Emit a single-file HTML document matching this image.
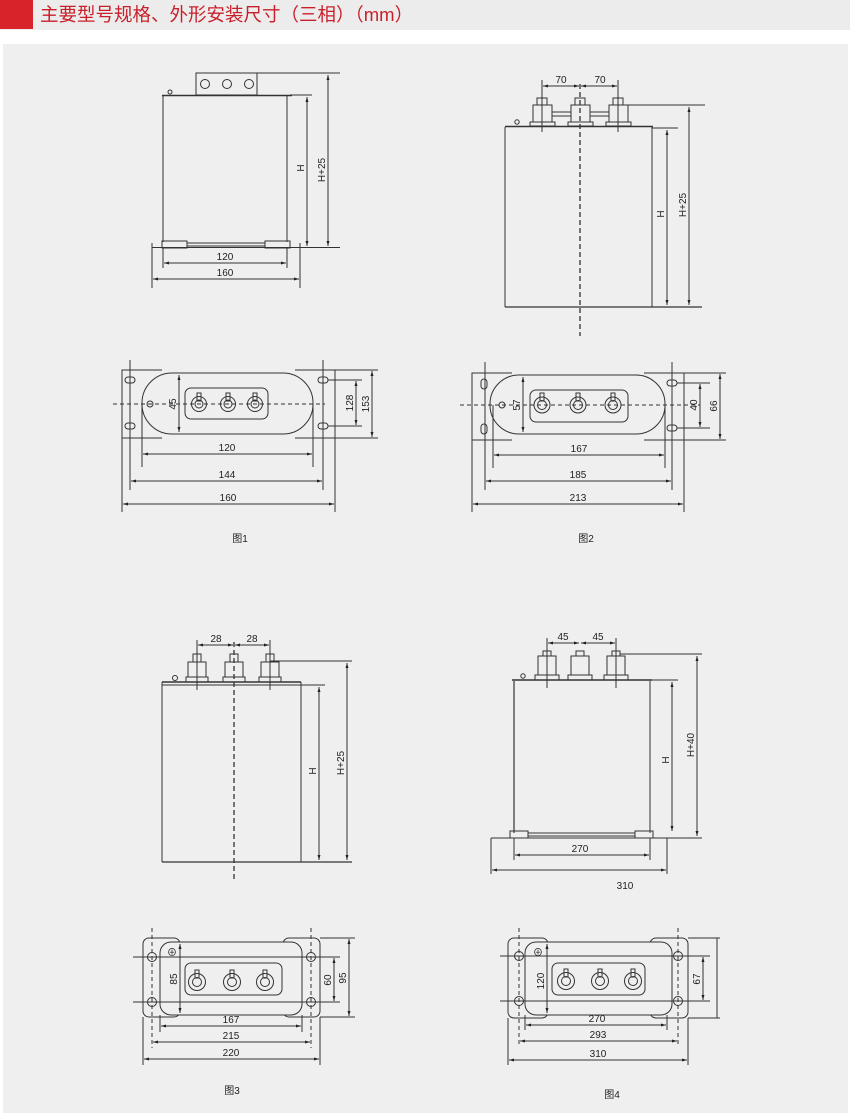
<!DOCTYPE html>
<html><head><meta charset="utf-8">
<style>
html,body{margin:0;padding:0;background:#fff;}
body{width:850px;height:1113px;position:relative;overflow:hidden;font-family:"Liberation Sans","Noto Sans CJK SC",sans-serif;}
.hdr{position:absolute;left:0;top:0;width:850px;height:30px;background:#ececec;}
.red{position:absolute;left:0;top:0;width:33px;height:29px;background:#d8232a;}
.ttl{position:absolute;left:40px;top:3px;font-size:18.5px;color:#c8202a;line-height:24px;font-family:"Liberation Sans","Noto Sans CJK SC",sans-serif;}
.panel{position:absolute;left:3px;top:44px;width:845px;height:1069px;background:#efefef;}
svg{position:absolute;left:0;top:0;}
text{font-family:"Liberation Sans","Noto Sans CJK SC",sans-serif;font-size:10px;fill:#222;}
</style></head><body>
<div class="hdr"></div><div class="red"></div>
<div class="ttl">主要型号规格、外形安装尺寸（三相）（mm）</div>
<div class="panel"></div>
<svg width="850" height="1113" viewBox="0 0 850 1113">
<defs>
<marker id="a" viewBox="0 0 10 10" refX="10" refY="5" markerWidth="7" markerHeight="5" orient="auto-start-reverse"><path d="M0,2 L10,5 L0,8 z" fill="#222"/></marker>
</defs>
<g stroke="#333" stroke-width="1" fill="none">

<!-- ===== FIG 1 elevation ===== -->
<rect x="196" y="73" width="61" height="22"/>
<circle cx="205" cy="84" r="4.5"/><circle cx="227" cy="84" r="4.5"/><circle cx="249" cy="84" r="4.5"/>
<line x1="257" y1="73" x2="340" y2="73"/>
<line x1="162" y1="95.5" x2="292" y2="95.5" stroke-width="1.5"/>
<line x1="290" y1="95" x2="312" y2="95"/>
<line x1="163" y1="96" x2="163" y2="242"/>
<line x1="287" y1="96" x2="287" y2="242"/>
<rect x="162" y="241" width="25" height="7"/>
<rect x="265" y="241" width="25" height="7"/>
<line x1="187" y1="243" x2="265" y2="243"/><line x1="187" y1="246" x2="265" y2="246"/>
<line x1="152" y1="247.5" x2="340" y2="247.5"/>
<line x1="152" y1="243" x2="152" y2="288"/><line x1="300" y1="243" x2="300" y2="288"/>
<line x1="163" y1="248" x2="163" y2="268"/><line x1="287" y1="248" x2="287" y2="268"/>
<line x1="307" y1="97" x2="307" y2="246" marker-start="url(#a)" marker-end="url(#a)"/>
<line x1="328" y1="75" x2="328" y2="246" marker-start="url(#a)" marker-end="url(#a)"/>
<line x1="164" y1="263" x2="286" y2="263" marker-start="url(#a)" marker-end="url(#a)"/>
<line x1="153" y1="279" x2="299" y2="279" marker-start="url(#a)" marker-end="url(#a)"/>
<circle cx="170" cy="92" r="2"/>

<!-- ===== FIG 1 plan ===== -->
<path d="M162,370 L122,370 L122,438 L162,438"/>
<path d="M295,370 L335,370 L335,438 L295,438"/>
<rect x="142" y="373" width="171" height="61" rx="30"/>
<rect x="185" y="388" width="83" height="31" rx="6"/>
<g>
<circle cx="199" cy="404" r="7.5"/><circle cx="199" cy="404" r="4"/><rect x="197" y="393" width="4" height="8"/>
<circle cx="228" cy="404" r="7.5"/><circle cx="228" cy="404" r="4"/><rect x="226" y="393" width="4" height="8"/>
<circle cx="255" cy="404" r="7.5"/><circle cx="255" cy="404" r="4"/><rect x="253" y="393" width="4" height="8"/>
</g>
<circle cx="150" cy="404" r="3"/>
<rect x="125" y="377" width="10" height="6" rx="3"/><rect x="125" y="423" width="10" height="6" rx="3"/>
<rect x="318" y="377" width="10" height="6" rx="3"/><rect x="318" y="423" width="10" height="6" rx="3"/>
<line x1="113" y1="404" x2="325" y2="404" stroke-dasharray="4,3"/>
<line x1="179" y1="375" x2="179" y2="432" marker-start="url(#a)" marker-end="url(#a)"/>
<line x1="328" y1="380" x2="362" y2="380"/><line x1="328" y1="426" x2="362" y2="426"/>
<line x1="335" y1="370" x2="378" y2="370"/><line x1="335" y1="438" x2="378" y2="438"/>
<line x1="356" y1="381" x2="356" y2="425" marker-start="url(#a)" marker-end="url(#a)"/>
<line x1="372" y1="371" x2="372" y2="437" marker-start="url(#a)" marker-end="url(#a)"/>
<line x1="142" y1="404" x2="142" y2="467"/><line x1="313" y1="404" x2="313" y2="467"/>
<line x1="130" y1="360" x2="130" y2="490"/><line x1="323" y1="360" x2="323" y2="490"/>
<line x1="122" y1="438" x2="122" y2="512"/><line x1="335" y1="438" x2="335" y2="512"/>
<line x1="143" y1="454" x2="312" y2="454" marker-start="url(#a)" marker-end="url(#a)"/>
<line x1="131" y1="481" x2="322" y2="481" marker-start="url(#a)" marker-end="url(#a)"/>
<line x1="123" y1="504" x2="334" y2="504" marker-start="url(#a)" marker-end="url(#a)"/>

<!-- ===== FIG 2 elevation ===== -->
<line x1="505" y1="126.5" x2="653" y2="126.5" stroke-width="1.5"/>
<line x1="505" y1="127" x2="505" y2="307"/>
<line x1="652" y1="127" x2="652" y2="307"/>
<line x1="505" y1="307" x2="702" y2="307" stroke-width="1.2"/>
<line x1="652" y1="128" x2="678" y2="128"/>
<line x1="620" y1="105" x2="705" y2="105"/>
<g>
<rect x="530" y="122" width="25" height="4"/><rect x="533" y="105" width="19" height="17"/><rect x="537" y="98" width="10" height="7"/>
<rect x="568" y="122" width="25" height="4"/><rect x="571" y="105" width="19" height="17"/><rect x="575" y="98" width="10" height="7"/>
<rect x="606" y="122" width="25" height="4"/><rect x="609" y="105" width="19" height="17"/><rect x="613" y="98" width="10" height="7"/>
<line x1="552" y1="112" x2="571" y2="112"/><line x1="590" y1="112" x2="609" y2="112"/>
<line x1="552" y1="116" x2="571" y2="116"/><line x1="590" y1="116" x2="609" y2="116"/>
</g>
<line x1="542" y1="80" x2="542" y2="132"/><line x1="618" y1="80" x2="618" y2="132"/>
<line x1="580" y1="84" x2="580" y2="336" stroke-dasharray="5,3" stroke-width="1.3"/>
<line x1="543" y1="86" x2="579" y2="86" marker-start="url(#a)" marker-end="url(#a)"/>
<line x1="581" y1="86" x2="617" y2="86" marker-start="url(#a)" marker-end="url(#a)"/>
<line x1="667" y1="130" x2="667" y2="305" marker-start="url(#a)" marker-end="url(#a)"/>
<line x1="689" y1="107" x2="689" y2="305" marker-start="url(#a)" marker-end="url(#a)"/>
<circle cx="517" cy="122" r="2.2"/>

<!-- ===== FIG 2 plan ===== -->
<path d="M512,373 L472,373 L472,440 L512,440"/>
<path d="M644,373 L684,373 L684,440 L644,440"/>
<rect x="490" y="375" width="175" height="59" rx="29"/>
<rect x="530" y="390" width="98" height="32" rx="6"/>
<g>
<circle cx="542" cy="405" r="8"/><circle cx="542" cy="405" r="4.5"/><rect x="540" y="393" width="4" height="8"/>
<circle cx="578" cy="405" r="8"/><circle cx="578" cy="405" r="4.5"/><rect x="576" y="393" width="4" height="8"/>
<circle cx="613" cy="405" r="8"/><circle cx="613" cy="405" r="4.5"/><rect x="611" y="393" width="4" height="8"/>
</g>
<circle cx="502" cy="405" r="3"/>
<rect x="481" y="379" width="6" height="10" rx="3"/><rect x="481" y="424" width="6" height="10" rx="3"/>
<rect x="667" y="380" width="10" height="6" rx="3"/><rect x="667" y="425" width="10" height="6" rx="3"/>
<line x1="460" y1="405" x2="700" y2="405" stroke-dasharray="4,3"/>
<line x1="523" y1="377" x2="523" y2="432" marker-start="url(#a)" marker-end="url(#a)"/>
<line x1="677" y1="383" x2="710" y2="383"/><line x1="677" y1="428" x2="710" y2="428"/>
<line x1="684" y1="373" x2="726" y2="373"/><line x1="684" y1="440" x2="726" y2="440"/>
<line x1="700" y1="384" x2="700" y2="427" marker-start="url(#a)" marker-end="url(#a)"/>
<line x1="720" y1="374" x2="720" y2="439" marker-start="url(#a)" marker-end="url(#a)"/>
<line x1="493" y1="405" x2="493" y2="468"/><line x1="665" y1="405" x2="665" y2="468"/>
<line x1="485" y1="362" x2="485" y2="490"/><line x1="672" y1="362" x2="672" y2="490"/>
<line x1="472" y1="440" x2="472" y2="512"/><line x1="684" y1="440" x2="684" y2="512"/>
<line x1="494" y1="455" x2="664" y2="455" marker-start="url(#a)" marker-end="url(#a)"/>
<line x1="486" y1="481" x2="671" y2="481" marker-start="url(#a)" marker-end="url(#a)"/>
<line x1="473" y1="504" x2="683" y2="504" marker-start="url(#a)" marker-end="url(#a)"/>

<!-- ===== FIG 3 elevation ===== -->
<line x1="162" y1="682" x2="301" y2="682" stroke-width="1.5"/>
<line x1="162" y1="685" x2="301" y2="685"/>
<line x1="162" y1="682" x2="162" y2="862"/>
<line x1="301" y1="682" x2="301" y2="862"/>
<line x1="162" y1="862" x2="352" y2="862" stroke-width="1.2"/>
<line x1="301" y1="685" x2="325" y2="685"/>
<line x1="270" y1="661" x2="352" y2="661"/>
<g>
<rect x="186" y="677" width="22" height="5"/><rect x="188" y="662" width="18" height="15"/><rect x="193" y="654" width="8" height="8"/>
<rect x="223" y="677" width="22" height="5"/><rect x="225" y="662" width="18" height="15"/><rect x="230" y="654" width="8" height="8"/>
<rect x="259" y="677" width="22" height="5"/><rect x="261" y="662" width="18" height="15"/><rect x="266" y="654" width="8" height="8"/>
</g>
<line x1="197" y1="640" x2="197" y2="690"/><line x1="270" y1="640" x2="270" y2="690"/>
<line x1="234" y1="642" x2="234" y2="880" stroke-dasharray="5,3" stroke-width="1.3"/>
<line x1="198" y1="645" x2="233" y2="645" marker-start="url(#a)" marker-end="url(#a)"/>
<line x1="235" y1="645" x2="269" y2="645" marker-start="url(#a)" marker-end="url(#a)"/>
<line x1="319" y1="687" x2="319" y2="860" marker-start="url(#a)" marker-end="url(#a)"/>
<line x1="347" y1="663" x2="347" y2="860" marker-start="url(#a)" marker-end="url(#a)"/>
<circle cx="175" cy="678" r="2.5"/>

<!-- ===== FIG 4 elevation ===== -->
<line x1="512" y1="680" x2="652" y2="680" stroke-width="1.5"/>
<line x1="514" y1="681" x2="514" y2="833" stroke-width="1.2"/>
<line x1="650" y1="681" x2="650" y2="833"/>
<line x1="650" y1="680" x2="678" y2="680"/>
<line x1="620" y1="654" x2="702" y2="654"/>
<g>
<rect x="535" y="675" width="24" height="5"/><rect x="538" y="656" width="18" height="19"/><rect x="543" y="651" width="8" height="5"/>
<rect x="568" y="675" width="24" height="5"/><rect x="571" y="656" width="18" height="19"/><rect x="576" y="651" width="8" height="5"/>
<rect x="604" y="675" width="24" height="5"/><rect x="607" y="656" width="18" height="19"/><rect x="612" y="651" width="8" height="5"/>
</g>
<line x1="547" y1="638" x2="547" y2="688"/><line x1="616" y1="638" x2="616" y2="688"/>
<line x1="548" y1="643" x2="579" y2="643" marker-start="url(#a)" marker-end="url(#a)"/>
<line x1="581" y1="643" x2="615" y2="643" marker-start="url(#a)" marker-end="url(#a)"/>
<rect x="510" y="831" width="18" height="7"/><rect x="635" y="831" width="18" height="7"/>
<line x1="528" y1="833" x2="635" y2="833"/><line x1="528" y1="836" x2="635" y2="836"/>
<line x1="491" y1="838" x2="702" y2="838"/>
<line x1="491" y1="838" x2="491" y2="874"/><line x1="667" y1="838" x2="667" y2="874"/>
<line x1="514" y1="838" x2="514" y2="860"/><line x1="650" y1="838" x2="650" y2="860"/>
<line x1="672" y1="682" x2="672" y2="831" marker-start="url(#a)" marker-end="url(#a)"/>
<line x1="697" y1="656" x2="697" y2="836" marker-start="url(#a)" marker-end="url(#a)"/>
<line x1="515" y1="855" x2="649" y2="855" marker-start="url(#a)" marker-end="url(#a)"/>
<line x1="492" y1="870" x2="666" y2="870" marker-start="url(#a)" marker-end="url(#a)"/>
<circle cx="523" cy="676" r="2.2"/>

<!-- ===== FIG 3 plan ===== -->
<rect x="143" y="938" width="37" height="79" rx="6"/>
<rect x="283" y="938" width="37" height="79" rx="6"/>
<rect x="160" y="942" width="142" height="73" rx="11" fill="#efefef"/>
<rect x="185" y="963" width="97" height="32" rx="6"/>
<g>
<circle cx="197" cy="982" r="8.5"/><circle cx="197" cy="982" r="4.5"/><rect x="195" y="970" width="4" height="8"/>
<circle cx="232" cy="982" r="8.5"/><circle cx="232" cy="982" r="4.5"/><rect x="230" y="970" width="4" height="8"/>
<circle cx="265" cy="982" r="8.5"/><circle cx="265" cy="982" r="4.5"/><rect x="263" y="970" width="4" height="8"/>
</g>
<circle cx="152" cy="957" r="4.5"/><circle cx="152" cy="1002" r="4.5"/>
<circle cx="311" cy="957" r="4.5"/><circle cx="311" cy="1002" r="4.5"/>
<line x1="133" y1="957" x2="340" y2="957"/><line x1="133" y1="1002" x2="340" y2="1002"/>
<line x1="152" y1="928" x2="152" y2="1048" stroke-dasharray="4,3"/>
<line x1="311" y1="928" x2="311" y2="1048" stroke-dasharray="4,3"/>
<line x1="180" y1="944" x2="180" y2="1013" marker-start="url(#a)" marker-end="url(#a)"/>
<line x1="320" y1="938" x2="355" y2="938"/><line x1="320" y1="1017" x2="355" y2="1017"/>
<line x1="334" y1="958" x2="334" y2="1001" marker-start="url(#a)" marker-end="url(#a)"/>
<line x1="349" y1="939" x2="349" y2="1016" marker-start="url(#a)" marker-end="url(#a)"/>
<line x1="160" y1="1015" x2="160" y2="1032"/><line x1="302" y1="1015" x2="302" y2="1032"/>
<line x1="143" y1="1017" x2="143" y2="1065"/><line x1="320" y1="1017" x2="320" y2="1065"/>
<line x1="161" y1="1026" x2="301" y2="1026" marker-start="url(#a)" marker-end="url(#a)"/>
<line x1="153" y1="1042" x2="310" y2="1042" marker-start="url(#a)" marker-end="url(#a)"/>
<line x1="144" y1="1059" x2="319" y2="1059" marker-start="url(#a)" marker-end="url(#a)"/>

<!-- ===== FIG 4 plan ===== -->
<rect x="508" y="938" width="40" height="80" rx="6"/>
<rect x="650" y="938" width="38" height="80" rx="6"/>
<rect x="525" y="942" width="147" height="73" rx="11" fill="#efefef"/>
<rect x="552" y="963" width="93" height="32" rx="6"/>
<g>
<circle cx="566" cy="981" r="8.5"/><circle cx="566" cy="981" r="4.5"/><rect x="564" y="969" width="4" height="8"/>
<circle cx="600" cy="981" r="8.5"/><circle cx="600" cy="981" r="4.5"/><rect x="598" y="969" width="4" height="8"/>
<circle cx="633" cy="981" r="8.5"/><circle cx="633" cy="981" r="4.5"/><rect x="631" y="969" width="4" height="8"/>
</g>
<circle cx="519" cy="956" r="4.5"/><circle cx="519" cy="1001" r="4.5"/>
<circle cx="678" cy="956" r="4.5"/><circle cx="678" cy="1001" r="4.5"/>
<line x1="500" y1="956" x2="710" y2="956"/><line x1="500" y1="1001" x2="710" y2="1001"/>
<line x1="519" y1="928" x2="519" y2="1046" stroke-dasharray="4,3"/>
<line x1="678" y1="928" x2="678" y2="1046" stroke-dasharray="4,3"/>
<line x1="547" y1="944" x2="547" y2="1013" marker-start="url(#a)" marker-end="url(#a)"/>
<line x1="688" y1="938" x2="720" y2="938"/><line x1="688" y1="1018" x2="720" y2="1018"/>
<line x1="717" y1="938" x2="717" y2="1018"/>
<line x1="703" y1="957" x2="703" y2="1000" marker-start="url(#a)" marker-end="url(#a)"/>
<line x1="525" y1="1015" x2="525" y2="1030"/><line x1="667" y1="1015" x2="667" y2="1030"/>
<line x1="508" y1="1018" x2="508" y2="1065"/><line x1="688" y1="1018" x2="688" y2="1065"/>
<line x1="526" y1="1025" x2="666" y2="1025" marker-start="url(#a)" marker-end="url(#a)"/>
<line x1="520" y1="1041" x2="677" y2="1041" marker-start="url(#a)" marker-end="url(#a)"/>
<line x1="509" y1="1060" x2="687" y2="1060" marker-start="url(#a)" marker-end="url(#a)"/>
</g>

<!-- labels -->
<g text-anchor="middle">
<text x="225" y="260">120</text>
<text x="225" y="276">160</text>
<text x="304" y="168" transform="rotate(-90 304 168)">H</text>
<text x="325" y="170" transform="rotate(-90 325 170)">H+25</text>
<text x="176" y="404" transform="rotate(-90 176 404)">45</text>
<text x="353" y="403" transform="rotate(-90 353 403)">128</text>
<text x="369" y="404" transform="rotate(-90 369 404)">153</text>
<text x="227" y="451">120</text>
<text x="227" y="478">144</text>
<text x="228" y="501">160</text>
<text x="240" y="542">图1</text>

<text x="561" y="83">70</text>
<text x="600" y="83">70</text>
<text x="664" y="214" transform="rotate(-90 664 214)">H</text>
<text x="686" y="205" transform="rotate(-90 686 205)">H+25</text>
<text x="520" y="405" transform="rotate(-90 520 405)">57</text>
<text x="697" y="405" transform="rotate(-90 697 405)">40</text>
<text x="717" y="406" transform="rotate(-90 717 406)">66</text>
<text x="579" y="452">167</text>
<text x="578" y="478">185</text>
<text x="578" y="501">213</text>
<text x="586" y="542">图2</text>

<text x="216" y="642">28</text>
<text x="252" y="642">28</text>
<text x="316" y="771" transform="rotate(-90 316 771)">H</text>
<text x="344" y="763" transform="rotate(-90 344 763)">H+25</text>
<text x="177" y="979" transform="rotate(-90 177 979)">85</text>
<text x="331" y="980" transform="rotate(-90 331 980)">60</text>
<text x="346" y="978" transform="rotate(-90 346 978)">95</text>
<text x="231" y="1023">167</text>
<text x="231" y="1039">215</text>
<text x="231" y="1056">220</text>
<text x="232" y="1094">图3</text>

<text x="563" y="640">45</text>
<text x="598" y="640">45</text>
<text x="669" y="760" transform="rotate(-90 669 760)">H</text>
<text x="694" y="745" transform="rotate(-90 694 745)">H+40</text>
<text x="580" y="852">270</text>
<text x="625" y="889">310</text>
<text x="544" y="981" transform="rotate(-90 544 981)">120</text>
<text x="700" y="979" transform="rotate(-90 700 979)">67</text>
<text x="597" y="1022">270</text>
<text x="598" y="1038">293</text>
<text x="598" y="1057">310</text>
<text x="612" y="1098">图4</text>
</g>
<text x="167" y="956" font-size="9">⊕</text>
<text x="533" y="956" font-size="9">⊕</text>
</svg>
</body></html>
